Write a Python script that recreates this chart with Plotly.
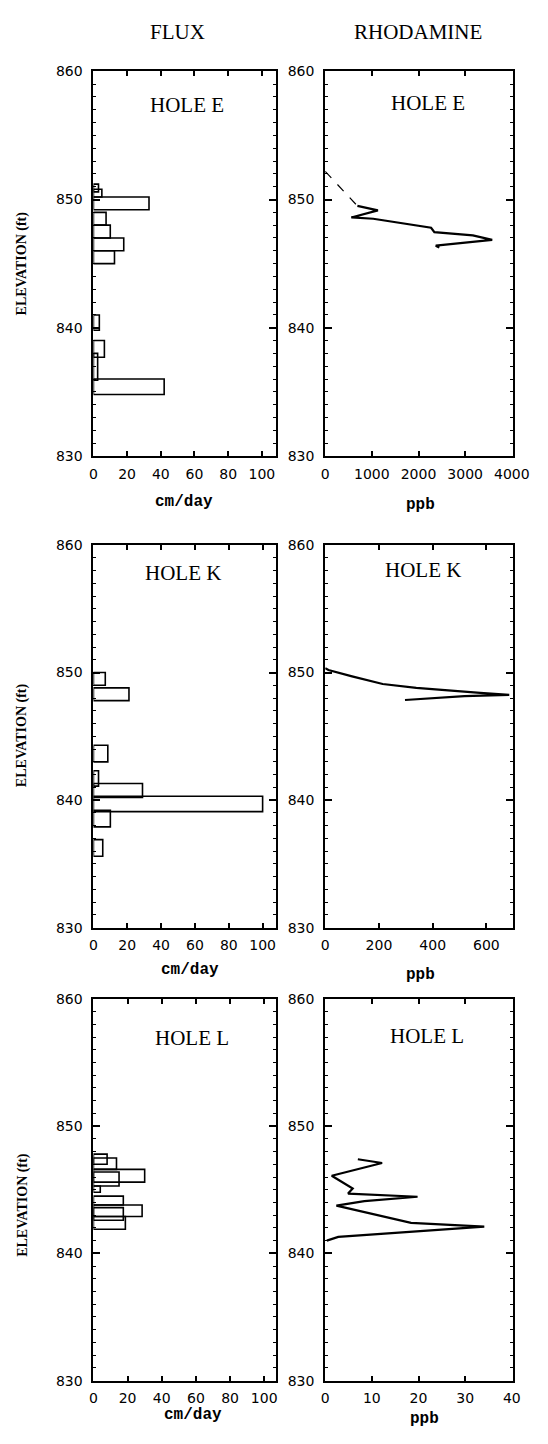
import plotly.graph_objects as go

# ---------------- data ----------------
holes = ["HOLE E", "HOLE K", "HOLE L"]

# FLUX bars: bottom elevation, top elevation (ft), flux (cm/day)
e_flux_bottom = [834.8, 835.9, 837.7, 839.8, 845.0, 846.0, 847.0, 848.0, 849.2, 850.2, 850.6]
e_flux_top    = [836.0, 838.0, 839.0, 841.0, 846.0, 847.0, 848.0, 849.0, 850.2, 850.8, 851.2]
e_flux_value  = [42, 2.5, 6.5, 3.5, 12.5, 18, 10, 7.5, 33, 5, 3]

k_flux_bottom = [835.6, 837.9, 839.1, 840.2, 841.1, 843.0, 847.8, 849.0]
k_flux_top    = [836.9, 839.2, 840.3, 841.3, 842.3, 844.3, 848.8, 850.0]
k_flux_value  = [5.5, 10, 100, 29, 3, 8.5, 21, 7]

l_flux_bottom = [841.9, 842.6, 842.9, 843.8, 844.8, 845.3, 845.6, 846.6, 847.0]
l_flux_top    = [842.9, 843.6, 843.8, 844.5, 845.3, 846.4, 846.6, 847.5, 847.8]
l_flux_value  = [18.7, 17.5, 28.5, 17.5, 4, 15, 30, 13.5, 8]

# RHODAMINE profiles: ppb vs elevation (ft)
e_rho_dash_ppb  = [0, 690]
e_rho_dash_elev = [852.2, 849.5]
e_rho_ppb  = [690, 1130, 560, 1030, 2270, 2340, 3165, 3580, 2370, 2445]
e_rho_elev = [849.5, 849.15, 848.6, 848.5, 847.8, 847.45, 847.2, 846.85, 846.4, 846.25]

k_rho_ppb  = [0, 12, 100, 214, 339, 470, 577, 685, 518, 297]
k_rho_elev = [850.35, 850.2, 849.7, 849.1, 848.8, 848.55, 848.4, 848.25, 848.15, 847.85]

l_rho_ppb  = [7.0, 12.2, 1.4, 5.9, 4.9, 19.8, 8.4, 2.4, 18.4, 27.8, 34.1, 2.8, 0.35]
l_rho_elev = [847.4, 847.1, 846.1, 845.1, 844.7, 844.45, 844.1, 843.75, 842.4, 842.2, 842.1, 841.3, 841.0]

flux_ticks = [0, 20, 40, 60, 80, 100]
rho_ticks = [[0, 1000, 2000, 3000, 4000], [0, 200, 400, 600], [0, 10, 20, 30, 40]]
rho_ranges = [[0, 4020], [0, 698], [0, 40.2]]
flux_ranges = [[0, 108.5], [0, 108], [0, 107]]
elev_ticks = [830, 840, 850, 860]

# ---------------- layout geometry ----------------
W, H = 548, 1444
col_px = [(93, 283), (334, 529)]
row_px = [(64, 453), (543, 930), (1002, 1388)]


def px_x(x):
    return x / W


def px_y(y):
    return 1 - y / H


fig = go.Figure()

flux_sets = [
    (e_flux_bottom, e_flux_top, e_flux_value),
    (k_flux_bottom, k_flux_top, k_flux_value),
    (l_flux_bottom, l_flux_top, l_flux_value),
]
rho_sets = [
    (e_rho_ppb, e_rho_elev),
    (k_rho_ppb, k_rho_elev),
    (l_rho_ppb, l_rho_elev),
]

tickfont = dict(family="DejaVu Sans", size=14, color="black")
axis_common = dict(
    showline=True, linecolor="black", linewidth=2, mirror="ticks",
    ticks="inside", tickcolor="black", tickwidth=1.5,
    showgrid=False, zeroline=False, tickfont=tickfont,
)

for r in range(3):
    for c in range(2):
        idx = r * 2 + c + 1
        xa = "x" if idx == 1 else f"x{idx}"
        ya = "y" if idx == 1 else f"y{idx}"
        x0, x1 = col_px[c]
        y0, y1 = row_px[r]
        xkey = "xaxis" if idx == 1 else f"xaxis{idx}"
        ykey = "yaxis" if idx == 1 else f"yaxis{idx}"
        if c == 0:
            rng = flux_ranges[r]
            tv = flux_ticks
        else:
            rng = rho_ranges[r]
            tv = rho_ticks[r]
        fig.update_layout({
            xkey: dict(axis_common, domain=[px_x(x0), px_x(x1)], anchor=ya,
                       range=rng, tickvals=tv, ticklen=5, ticklabelstandoff=4),
            ykey: dict(axis_common, domain=[px_y(y1), px_y(y0)], anchor=xa,
                       range=[830, 860], tickvals=elev_ticks, ticklen=7,
                       ticklabelstandoff=6,
                       minor=dict(dtick=1, ticks="inside", ticklen=3,
                                  tickcolor="black", tickwidth=1.2, showgrid=False)),
        })
        if c == 0:
            b, t, v = flux_sets[r]
            centers = [(bb + tt) / 2 for bb, tt in zip(b, t)]
            widths = [tt - bb for bb, tt in zip(b, t)]
            fig.add_trace(go.Bar(
                orientation="h", y=centers, x=v, width=widths, base=0,
                marker=dict(color="rgba(0,0,0,0)", line=dict(color="black", width=1.6)),
                xaxis=xa, yaxis=ya, showlegend=False,
            ))
        else:
            ppb, elev = rho_sets[r]
            if r == 0:
                fig.add_trace(go.Scatter(
                    x=e_rho_dash_ppb, y=e_rho_dash_elev, mode="lines",
                    line=dict(color="black", width=1.2, dash="dash"),
                    xaxis=xa, yaxis=ya, showlegend=False,
                ))
            fig.add_trace(go.Scatter(
                x=ppb, y=elev, mode="lines",
                line=dict(color="black", width=2.2),
                xaxis=xa, yaxis=ya, showlegend=False,
            ))

annotations = []


def ann(text, x, y, font, angle=0):
    annotations.append(dict(text=text, x=px_x(x), y=px_y(y), xref="paper", yref="paper",
                            xanchor="center", yanchor="middle", showarrow=False,
                            textangle=angle, font=font))


serif_big = dict(family="Liberation Serif", size=21, color="black")
# column headers
ann("FLUX", 180, 24, serif_big)
ann("RHODAMINE", 430, 24, serif_big)

hole_pos = [
    [(190, 98), (441, 96)],
    [(186, 571), (436, 568)],
    [(196, 1042), (440, 1040)],
]
xtitle_pos = [
    [(187, 500), (433, 503)],
    [(193, 973), (433, 978)],
    [(197, 1423), (437, 1427)],
]
elev_y = [258, 735, 1210]
for r in range(3):
    for c in range(2):
        hx, hy = hole_pos[r][c]
        ann(holes[r], hx, hy, serif_big)
        tx, ty = xtitle_pos[r][c]
        ann("<b>cm/day</b>" if c == 0 else "<b>ppb</b>", tx, ty,
            dict(family="Liberation Mono", size=16, color="black"))
    ann("<b>ELEVATION (ft)</b>", 19, elev_y[r],
        dict(family="Liberation Serif", size=14, color="black"), angle=-90)

fig.update_layout(
    width=W, height=H, autosize=False,
    margin=dict(l=0, r=0, t=0, b=0),
    paper_bgcolor="white", plot_bgcolor="white",
    barmode="overlay", showlegend=False,
    annotations=annotations,
)

fig.write_html("out.html")
